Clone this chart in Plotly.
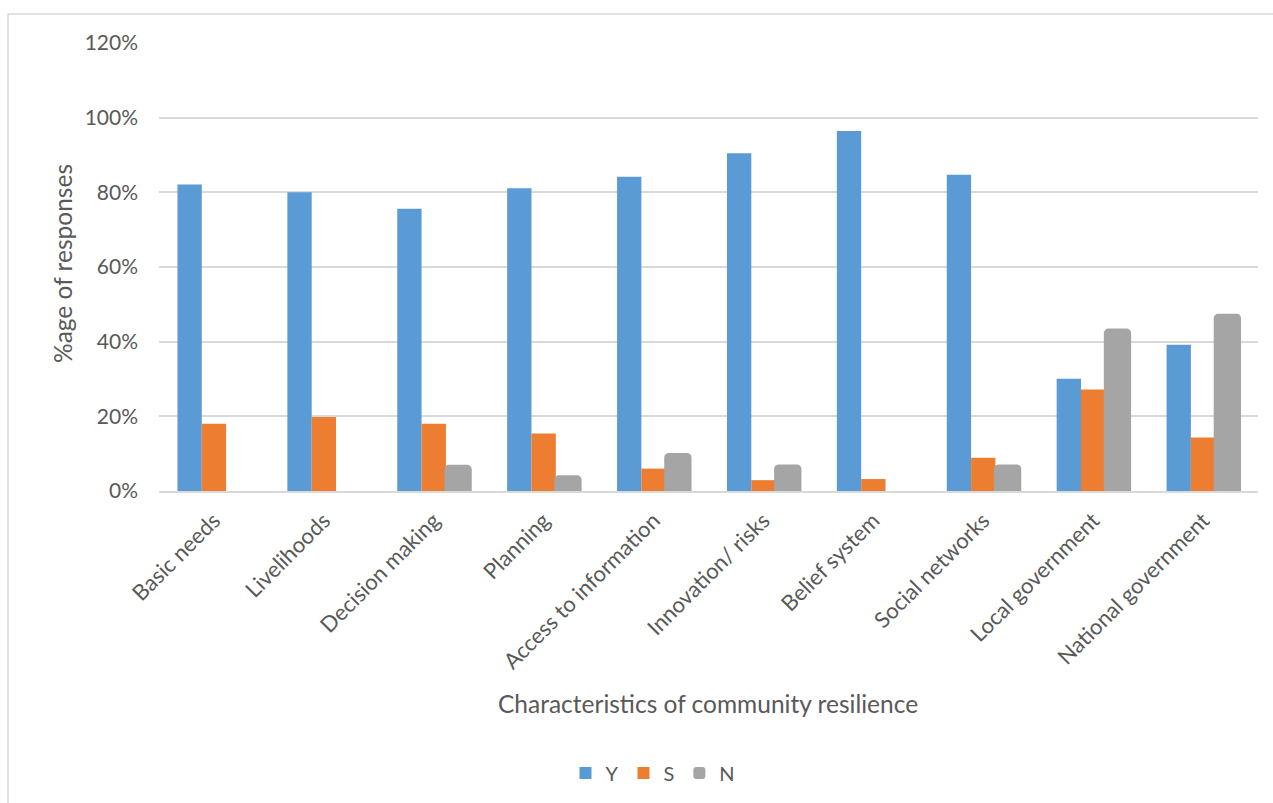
import plotly.graph_objects as go

categories = ["Basic needs", "Livelihoods", "Decision making", "Planning",
              "Access to information", "Innovation/ risks", "Belief system",
              "Social networks", "Local government", "National government"]
y_vals = [82.1, 80.0, 75.6, 81.1, 84.2, 90.5, 96.4, 84.7, 30.1, 39.2]
s_vals = [18.0, 19.8, 18.0, 15.4, 6.0, 2.9, 3.2, 8.9, 27.2, 14.3]
n_vals = [0, 0, 6.6, 3.8, 9.8, 6.7, 0, 6.7, 43.1, 47.1]

FONT = "Lato"
TXT = "#595959"

fig = go.Figure()
fig.add_trace(go.Bar(name="Y", x=categories, y=y_vals, marker=dict(color="#5B9BD5", line=dict(width=0))))
fig.add_trace(go.Bar(name="S", x=categories, y=s_vals, marker=dict(color="#ED7D31", line=dict(width=0))))
fig.add_trace(go.Bar(name="N", x=categories, y=n_vals,
                     marker=dict(color="#A5A5A5",
                                 line=dict(width=[3 if v > 0 else 0 for v in n_vals], color="#A5A5A5"),
                                 cornerradius=3)))

L, R, T, B = 159, 15, 43, 312
W, H = 1273, 803
pw = W - L - R
ph = H - T - B

def px2x(px):
    return (px - L) / pw

def px2y(py):
    return (H - B - py) / ph

fig.update_layout(
    width=W, height=H,
    margin=dict(l=L, r=R, t=T, b=B, autoexpand=False),
    paper_bgcolor="white", plot_bgcolor="white",
    barmode="group", bargap=0.336, bargroupgap=0,
    font=dict(family=FONT, color=TXT, size=21),
    showlegend=True,
    legend=dict(orientation="h", x=px2x(653), y=px2y(773), xanchor="center", yanchor="middle",
                font=dict(size=20, color=TXT), itemwidth=30, tracegroupgap=0),
    xaxis=dict(tickangle=-45, tickfont=dict(size=22, color=TXT), showgrid=False,
               showline=True, linecolor="#D9D9D9", linewidth=2, ticks="", ticklabelstandoff=6),
    yaxis=dict(range=[0, 120], tickvals=[0, 20, 40, 60, 80, 100, 120],
               ticktext=["0%", "20%", "40%", "60%", "80%", "100%", "120%"],
               tickfont=dict(size=21, color=TXT), showgrid=True, gridcolor="#D9D9D9",
               gridwidth=1.5, zeroline=False, showline=False, ticks="", ticklabelstandoff=20),
    shapes=[dict(type="rect", xref="paper", yref="paper",
                 x0=px2x(8), x1=px2x(1300), y0=px2y(830), y1=px2y(14),
                 line=dict(color="#D9D9D9", width=1.5), fillcolor="rgba(0,0,0,0)", layer="below")],
    annotations=[
        dict(text="%age of responses", xref="paper", yref="paper", x=px2x(62), y=px2y(264),
             showarrow=False, textangle=-90, font=dict(size=24.5, color=TXT),
             xanchor="center", yanchor="middle"),
        dict(text="Characteristics of community resilience", xref="paper", yref="paper",
             x=px2x(708), y=px2y(703), showarrow=False, font=dict(size=24.5, color=TXT),
             xanchor="center", yanchor="middle"),
    ],
)

fig.write_html("out.html")
